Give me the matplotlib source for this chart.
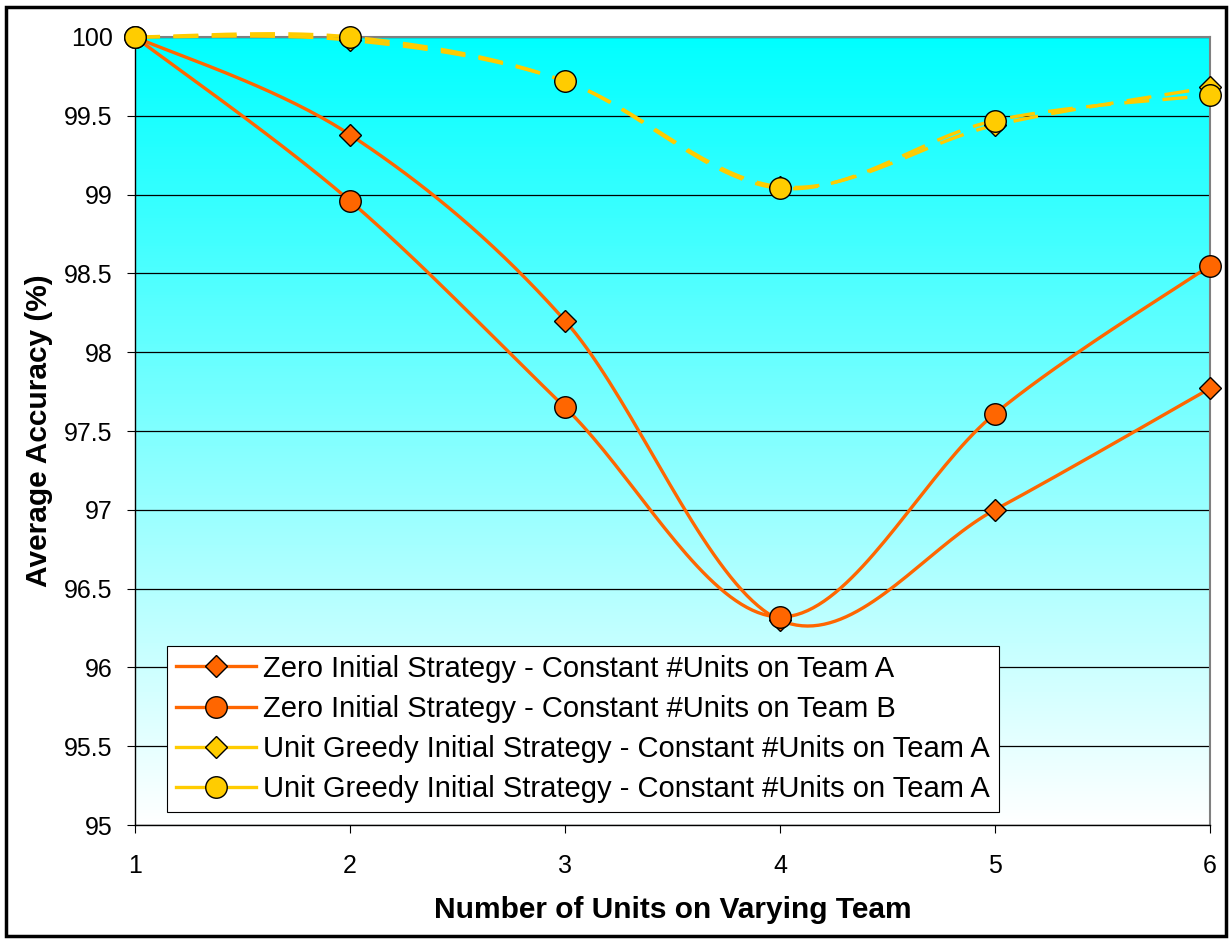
import numpy as np
import matplotlib.pyplot as plt
from matplotlib.colors import LinearSegmentedColormap
from matplotlib.lines import Line2D

plt.rcParams['font.family'] = ['Liberation Sans', 'DejaVu Sans']

units = [1, 2, 3, 4, 5, 6]
zero_team_a = [100, 99.38, 98.20, 96.30, 97.00, 97.77]
zero_team_b = [100, 98.96, 97.65, 96.32, 97.61, 98.55]
greedy_team_a = [100, 99.98, 99.72, 99.05, 99.44, 99.68]
greedy_team_a2 = [100, 100, 99.72, 99.04, 99.47, 99.63]

labels = ['Zero Initial Strategy - Constant #Units on Team A',
          'Zero Initial Strategy - Constant #Units on Team B',
          'Unit Greedy Initial Strategy - Constant #Units on Team A',
          'Unit Greedy Initial Strategy - Constant #Units on Team A']
ytick_labels = ['95', '95.5', '96', '96.5', '97', '97.5', '98', '98.5', '99', '99.5', '100']

orange = '#FF6600'
yellow = '#FFCC00'


def smooth(xs, ys, n=40):
    # cubic bezier through the points (catmull-rom style control points)
    xs = np.asarray(xs, float)
    ys = np.asarray(ys, float)
    px = np.concatenate([[xs[0]], xs, [xs[-1]]])
    py = np.concatenate([[ys[0]], ys, [ys[-1]]])
    outx, outy = [], []
    t = np.linspace(0, 1, n)
    for i in range(1, len(px) - 2):
        p0 = np.array([px[i], py[i]])
        p3 = np.array([px[i + 1], py[i + 1]])
        p1 = p0 + (np.array([px[i + 1], py[i + 1]]) - np.array([px[i - 1], py[i - 1]])) / 6
        p2 = p3 - (np.array([px[i + 2], py[i + 2]]) - np.array([px[i], py[i]])) / 6
        b = ((1 - t) ** 3)[:, None] * p0 + (3 * (1 - t) ** 2 * t)[:, None] * p1 \
            + (3 * (1 - t) * t ** 2)[:, None] * p2 + (t ** 3)[:, None] * p3
        outx.extend(b[:, 0])
        outy.extend(b[:, 1])
    return outx, outy


fig = plt.figure(figsize=(12.31, 9.39), dpi=100)
ax = fig.add_axes([0.1097, 0.1214, 0.8732, 0.8392])

# vertical gradient background, cyan to white
grad = np.linspace(0, 1, 256)[:, None]
ax.imshow(grad, extent=[0, 1, 0, 1], transform=ax.transAxes, aspect='auto',
          cmap=LinearSegmentedColormap.from_list('bg', ['#FFFFFF', '#00FFFF']),
          origin='lower', zorder=0)

ax.set_xlim(1, 6)
ax.set_ylim(95, 100)
ax.set_yticks(np.arange(95, 100.01, 0.5))
ax.set_yticklabels(ytick_labels)
ax.set_xticks(units)
ax.grid(axis='y', color='black', linewidth=0.9, zorder=1)
ax.set_axisbelow(True)

dash = (0, (7.5, 4))
series = [(zero_team_a, orange, 'D', 11.5, '-'),
          (zero_team_b, orange, 'o', 15.5, '-'),
          (greedy_team_a, yellow, 'D', 11.5, dash),
          (greedy_team_a2, yellow, 'o', 15.5, dash)]

handles = []
for ys, c, m, ms, ls in series:
    sx, sy = smooth(units, ys)
    ax.plot(sx, sy, color=c, linewidth=2.4, linestyle=ls, zorder=3, clip_on=False)
for ys, c, m, ms, ls in series:
    ax.plot(units, ys, linestyle='none', marker=m, markersize=ms, markerfacecolor=c,
            markeredgecolor='black', markeredgewidth=1.0, zorder=4, clip_on=False)
    handles.append(Line2D([0], [0], color=c, linewidth=2.4, marker=m, markersize=ms,
                          markerfacecolor=c, markeredgecolor='black', markeredgewidth=1.0))

for s in ['top', 'right']:
    ax.spines[s].set_color('#808080')
    ax.spines[s].set_linewidth(1.5)
for s in ['left', 'bottom']:
    ax.spines[s].set_color('black')
    ax.spines[s].set_linewidth(1.0)

ax.tick_params(axis='both', labelsize=18, length=6, direction='out')
ax.tick_params(axis='y', pad=10)
ax.tick_params(axis='x', pad=15)
ax.set_xlabel('Number of Units on Varying Team', fontsize=21.5, fontweight='bold', labelpad=13)
ax.set_ylabel('Average Accuracy (%)', fontsize=21.5, fontweight='bold', labelpad=8)

leg = ax.legend(handles, labels, loc='lower left', bbox_to_anchor=(0.0298, 0.0165),
                fontsize=21, frameon=True, fancybox=False, framealpha=1, edgecolor='black',
                handlelength=2.75, handletextpad=0.25, borderpad=0.3, labelspacing=0.42,
                borderaxespad=0)
leg.get_frame().set_linewidth(0.8)
leg.set_zorder(5)

# outer frame around the whole chart
fig.patches.append(plt.Rectangle((0.005, 0.003), 0.991, 0.99, transform=fig.transFigure,
                                 fill=False, edgecolor='black', linewidth=2.5))

fig.savefig('out.png', dpi=100)
